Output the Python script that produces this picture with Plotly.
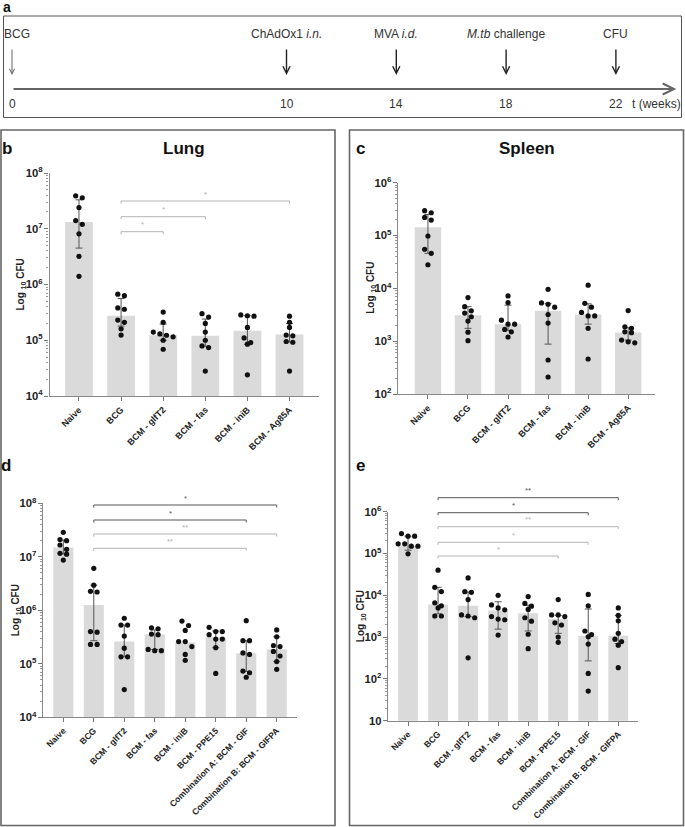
import math
import plotly.graph_objects as go

W, H = 685, 827
FONT = "Liberation Sans, Arial, sans-serif"

# ---------------- data ----------------
timeline_weeks = [0, 10, 14, 18, 22]
timeline_events = ["BCG", "ChAdOx1 <i>i.n.</i>", "MVA <i>i.d.</i>", "<i>M.tb</i> challenge", "CFU"]
timeline_end = 24.2

groups_6 = ["Naive", "BCG", "BCM - glfT2", "BCM - fas", "BCM - iniB", "BCM - Ag85A"]
groups_8 = ["Naive", "BCG", "BCM - glfT2", "BCM - fas", "BCM - iniB", "BCM - PPE15",
            "Combination A: BCM - GIF", "Combination B: BCM - GIFPA"]

# (b) Lung, experiment 1
lung1_mean = [1.32e7, 2.75e5, 1.23e5, 1.2e5, 1.48e5, 1.27e5]
lung1_hi = [3.3e7, 5.6e5, 1.95e5, 2.4e5, 2.75e5, 2.0e5]
lung1_lo = [4.5e6, 1.8e5, 1.0e5, 7.8e4, 8.5e4, 9.3e4]
lung1_dots = [
    [3.6e7, 3.9e7, 2.4e7, 1.2e7, 1.4e7, 8.1e6, 3.2e6, 1.4e6],
    [6.3e5, 6.7e5, 3.6e5, 3.8e5, 2.1e5, 2.3e5, 1.6e5, 1.24e5],
    [3.2e5, 2.1e5, 1.4e5, 1.3e5, 1.23e5, 1.15e5, 1.0e5, 6.9e4],
    [2.6e5, 3.0e5, 2.0e5, 1.4e5, 1.0e5, 7.4e4, 7.9e4, 2.8e4],
    [2.7e5, 2.85e5, 2.75e5, 1.7e5, 1.1e5, 8.5e4, 9.1e4, 2.4e4],
    [2.7e5, 2.1e5, 1.7e5, 1.2e5, 1.24e5, 9.2e4, 9.5e4, 2.8e4],
]
lung1_sig = [(1, 2, "*"), (1, 3, "*"), (1, 5, "*")]

# (c) Spleen, experiment 1
spleen1_mean = [1.43e5, 3.1e3, 2.1e3, 3.75e3, 3.2e3, 1.46e3]
spleen1_hi = [2.5e5, 4.5e3, 4.8e3, 5.2e3, 5.1e3, 1.8e3]
spleen1_lo = [4.6e4, 1.75e3, 1.6e3, 8.8e2, 2.1e3, 1.05e3]
spleen1_dots = [
    [2.7e5, 2.95e5, 1.96e5, 2.2e5, 9.8e4, 5.5e4, 4.6e4, 2.8e4],
    [6.7e3, 4.5e3, 3.75e3, 3.4e3, 2.9e3, 2.4e3, 1.48e3, 1.02e3],
    [7.2e3, 5.4e3, 2.5e3, 2.1e3, 2.1e3, 1.5e3, 1.67e3, 1.2e3],
    [9.6e3, 5.3e3, 5.0e3, 4.4e3, 3.2e3, 2.2e3, 4.4e2, 2.1e2],
    [1.15e4, 5.2e3, 4.4e3, 3.5e3, 3.0e3, 3.0e3, 1.75e3, 4.6e2],
    [3.8e3, 1.87e3, 1.75e3, 1.45e3, 1.5e3, 1.05e3, 9.3e2, 9.7e2],
]

# (d) Lung, experiment 2
lung2_mean = [1.5e7, 1.26e6, 2.6e5, 3.55e5, 2.5e5, 3.15e5, 1.57e5, 1.87e5]
lung2_hi = [2.05e7, 2.95e6, 5.3e5, 4.3e5, None, 4.1e5, 2.7e5, 3.2e5]
lung2_lo = [1.13e7, 2.7e5, 1.35e5, 1.85e5, None, 2.0e5, 7.2e4, 1.1e5]
lung2_dots = [
    [2.87e7, 2.0e7, 2.1e7, 1.66e7, 1.38e7, 1.12e7, 1.16e7, 8.7e6],
    [6.1e6, 2.95e6, 2.2e6, 2.26e6, 3.9e5, 4.0e5, 2.3e5, 2.3e5],
    [7.1e5, 5.3e5, 5.3e5, 3.3e5, 1.96e5, 1.35e5, 1.35e5, 3.3e4],
    [4.5e5, 4.7e5, 3.5e5, 3.6e5, 1.76e5, 1.86e5, 1.76e5],
    [6.3e5, 5.2e5, 4.2e5, 2.6e5, 2.6e5, 2.1e5, 1.5e5, 1.16e5],
    [4.8e5, 4.0e5, 4.0e5, 3.5e5, 2.9e5, 2.9e5, 2.0e5, 6.6e4],
    [6.4e5, 2.7e5, 2.7e5, 1.5e5, 1.6e5, 6.8e4, 7.3e4, 5.6e4],
    [4.3e5, 3.2e5, 2.1e5, 2.2e5, 1.7e5, 1.4e5, 1.1e5, 7.9e4],
]
lung2_sig = [(1, 7, "*"), (1, 6, "*"), (1, 7, "**"), (1, 6, "**")]

# (e) Spleen, experiment 2
spleen2_mean = [1.55e5, 6.0e3, 5.6e3, 4.3e3, 3.7e3, 2.7e3, 1.07e3, 1.07e3]
spleen2_hi = [2.6e5, 1.55e4, 1.2e4, 7.0e3, 5.8e3, 3.3e3, 4.7e3, 3.3e3]
spleen2_lo = [1.2e5, 3.6e3, 3.1e3, 1.55e3, 1.4e3, 1.23e3, 2.7e2, 7.0e2]
spleen2_dots = [
    [2.6e5, 3.0e5, 2.6e5, 1.5e5, 1.7e5, 1.7e5, 1.5e5, 9.8e4],
    [4.0e4, 1.55e4, 1.23e4, 6.6e3, 5.0e3, 5.6e3, 3.2e3, 3.2e3],
    [2.6e4, 1.18e4, 1.22e4, 7.9e3, 3.4e3, 2.9e3, 3.2e3, 3.2e2],
    [1.0e4, 5.9e3, 5.0e3, 4.5e3, 3.1e3, 2.6e3, 2.7e3, 1.12e3],
    [9.3e3, 6.4e3, 5.5e3, 4.6e3, 2.9e3, 2.4e3, 1.17e3, 5.3e2],
    [7.9e3, 3.1e3, 3.4e3, 3.4e3, 1.95e3, 2.2e3, 1.0e3, 7.5e2],
    [1.05e4, 5.6e3, 1.4e3, 1.02e3, 1.15e3, 6.8e2, 1.35e2, 51],
    [5.0e3, 3.3e3, 2.45e3, 1.23e3, 7.8e2, 8.9e2, 6.4e2, 1.86e2],
]
spleen2_sig = [(1, 7, "**"), (1, 6, "*"), (1, 7, "**"), (1, 6, "*"), (1, 5, "*")]

# ---------------- layout config (pixels) ----------------
DARK = "#555555"
LIGHT = "#b4b4b4"
panels = [
    dict(ax="", letter="b", title="Lung", groups=groups_6, mean=lung1_mean, hi=lung1_hi, lo=lung1_lo,
         dots=lung1_dots, sig=lung1_sig, sig_y=[231.7, 216.7, 201.0], sig_c=[LIGHT, LIGHT, LIGHT],
         xdom=(49.5, 319), ydom=(173, 396), xr=(-0.70, 5.70), yr=(4, 8),
         letter_px=(7, 148), title_px=(184, 148), ytitle_px=(21, 284.5), tick_size=9),
    dict(ax="2", letter="c", title="Spleen", groups=groups_6, mean=spleen1_mean, hi=spleen1_hi, lo=spleen1_lo,
         dots=spleen1_dots, sig=[], sig_y=[], sig_c=[],
         xdom=(398.3, 655), ydom=(182.7, 394), xr=(-0.74, 5.67), yr=(2, 6),
         letter_px=(360, 148), title_px=(527, 148), ytitle_px=(371.5, 288.3), tick_size=9),
    dict(ax="3", letter="d", title="", groups=groups_8, mean=lung2_mean, hi=lung2_hi, lo=lung2_lo,
         dots=lung2_dots, sig=lung2_sig, sig_y=[505, 520, 534, 548.3], sig_c=[DARK, DARK, LIGHT, LIGHT],
         xdom=(43.3, 297.3), ydom=(503.3, 717.3), xr=(-0.656, 7.675), yr=(4, 8),
         letter_px=(6, 465), title_px=None, ytitle_px=(16, 610.3), tick_size=8.6),
    dict(ax="4", letter="e", title="", groups=groups_8, mean=spleen2_mean, hi=spleen2_hi, lo=spleen2_lo,
         dots=spleen2_dots, sig=spleen2_sig, sig_y=[497.7, 512.7, 526.7, 542.3, 556],
         sig_c=[DARK, DARK, LIGHT, LIGHT, LIGHT],
         xdom=(388.3, 638.3), ydom=(511.7, 720.7), xr=(-0.657, 7.667), yr=(1, 6),
         letter_px=(361, 465), title_px=None, ytitle_px=(361, 616.2), tick_size=8.6),
]


def pxx(p):
    return p / W


def pxy(p):
    return 1 - p / H


def cat_px(pn, idx):
    x0, x1 = pn["xdom"]
    r0, r1 = pn["xr"]
    return x0 + (idx - r0) / (r1 - r0) * (x1 - x0)


def swarm(vals, ppd, ppc, dot=5.0, gap=6.6):
    order = sorted(range(len(vals)), key=lambda k: -vals[k])
    rows = []
    for k in order:
        yv = math.log10(vals[k]) * ppd
        if rows and abs(rows[-1][0] - yv) < dot:
            rows[-1][1].append(k)
        else:
            rows.append([yv, [k]])
    off = [0.0] * len(vals)
    for _, members in rows:
        n = len(members)
        for j, k in enumerate(members):
            off[k] = (j - (n - 1) / 2) * gap / ppc
    return off


def label(x, y, text, size, color="#222", angle=0, xref="paper", **kw):
    d = dict(x=x, y=y, xref=xref, yref="paper", text=text, showarrow=False, textangle=angle,
             xanchor="center", yanchor="middle", font=dict(size=size, color=color, family=FONT))
    d.update(kw)
    return d


fig = go.Figure()
layout = dict(width=W, height=H, margin=dict(l=0, r=0, t=0, b=0),
              paper_bgcolor="white", plot_bgcolor="white", showlegend=False,
              font=dict(family=FONT, color="#222"), template="none")
annotations = []
shapes = []

for pn in panels:
    xa, ya = "x" + pn["ax"], "y" + pn["ax"]
    n = len(pn["groups"])
    idx = list(range(n))
    ppd = (pn["ydom"][1] - pn["ydom"][0]) / (pn["yr"][1] - pn["yr"][0])
    ppc = (pn["xdom"][1] - pn["xdom"][0]) / (pn["xr"][1] - pn["xr"][0])

    fig.add_trace(go.Bar(x=idx, y=pn["mean"], width=0.66, marker=dict(color="#dadada", line=dict(width=0)),
                         xaxis=xa, yaxis=ya, hoverinfo="skip"))
    ex, ey, ep, em = [], [], [], []
    for i in idx:
        if pn["hi"][i] is not None:
            ex.append(i)
            ey.append(pn["mean"][i])
            ep.append(pn["hi"][i] - pn["mean"][i])
            em.append(pn["mean"][i] - pn["lo"][i])
    fig.add_trace(go.Scatter(x=ex, y=ey, mode="markers", marker=dict(size=2, opacity=0),
                             error_y=dict(type="data", array=ep, arrayminus=em, color="#555",
                                          thickness=1, width=3.5),
                             xaxis=xa, yaxis=ya, hoverinfo="skip"))
    dx, dy = [], []
    for i in idx:
        offs = swarm(pn["dots"][i], ppd, ppc)
        for v, o in zip(pn["dots"][i], offs):
            dx.append(i + o)
            dy.append(v)
    fig.add_trace(go.Scatter(x=dx, y=dy, mode="markers", marker=dict(size=5.2, color="#111"),
                             xaxis=xa, yaxis=ya, hoverinfo="skip"))

    xkey = "xaxis" + pn["ax"]
    ykey = "yaxis" + pn["ax"]
    layout[xkey] = dict(domain=[pxx(pn["xdom"][0]), pxx(pn["xdom"][1])], anchor=ya,
                        range=list(pn["xr"]), tickmode="array", tickvals=idx, ticktext=pn["groups"],
                        tickangle=-45, ticks="outside", ticklen=4, tickcolor="#777",
                        showline=True, linecolor="#888", linewidth=1.2, showgrid=False, zeroline=False,
                        tickfont=dict(family=FONT, size=pn["tick_size"], color="#222", weight="bold"),
                        automargin=False, fixedrange=True)
    layout[ykey] = dict(domain=[pxy(pn["ydom"][1]), pxy(pn["ydom"][0])], anchor=xa,
                        type="log", range=list(pn["yr"]), dtick=1, exponentformat="power",
                        ticks="outside", ticklen=4, tickcolor="#777",
                        minor=dict(ticks="outside", ticklen=2, tickcolor="#999", dtick="D1"),
                        showline=True, linecolor="#888", linewidth=1.2, showgrid=False, zeroline=False,
                        tickfont=dict(family=FONT, size=9, color="#222", weight="bold"),
                        automargin=False, fixedrange=True)

    annotations.append(label(pxx(pn["letter_px"][0]), pxy(pn["letter_px"][1]),
                             "<b>%s</b>" % pn["letter"], 17, "#111"))
    if pn["title_px"]:
        annotations.append(label(pxx(pn["title_px"][0]), pxy(pn["title_px"][1]),
                                 "<b>%s</b>" % pn["title"], 17, "#111"))
    annotations.append(label(pxx(pn["ytitle_px"][0]), pxy(pn["ytitle_px"][1]),
                             "<b>Log <sub>10</sub> CFU</b>", 10, "#222", angle=-90))

    for (i, j, lab), yb, col in zip(pn["sig"], pn["sig_y"], pn["sig_c"]):
        xi, xj = cat_px(pn, i), cat_px(pn, j)
        path = "M %f %f L %f %f L %f %f L %f %f" % (pxx(xi), pxy(yb + 2.5), pxx(xi), pxy(yb),
                                                  pxx(xj), pxy(yb), pxx(xj), pxy(yb + 2.5))
        shapes.append(dict(type="path", path=path, xref="paper", yref="paper",
                           line=dict(color=col, width=1)))
        annotations.append(label(pxx((xi + xj) / 2), pxy(yb - 0.5), lab, 8, col, yanchor="bottom"))

# panel boxes
shapes.append(dict(type="rect", xref="paper", yref="paper", x0=pxx(3.5), x1=pxx(681.5), y0=pxy(16), y1=pxy(117.5),
                   line=dict(color="#555", width=1)))
shapes.append(dict(type="rect", xref="paper", yref="paper", x0=pxx(1), x1=pxx(335), y0=pxy(130), y1=pxy(825.5),
                   line=dict(color="#666", width=1.6)))
shapes.append(dict(type="rect", xref="paper", yref="paper", x0=pxx(349.5), x1=pxx(683.5), y0=pxy(130), y1=pxy(825.5),
                   line=dict(color="#666", width=1.6)))

# ---------------- panel a: timeline ----------------
px_per_week = 27.45
t0_px = 12
fig.add_trace(go.Scatter(x=timeline_weeks, y=[0] * len(timeline_weeks), mode="markers",
                         marker=dict(opacity=0), xaxis="x5", yaxis="y5", hoverinfo="skip"))
layout["xaxis5"] = dict(domain=[0, 1], anchor="y5", visible=False, fixedrange=True,
                        range=[-t0_px / px_per_week, (W - t0_px) / px_per_week])
layout["yaxis5"] = dict(domain=[pxy(118), pxy(16)], anchor="x5", visible=False, range=[-1, 1], fixedrange=True)

annotations.append(label(pxx(6.5), pxy(7), "<b>a</b>", 14, "#111"))
annotations.append(dict(x=timeline_end, y=pxy(89), xref="x5", yref="paper", ax=0, ay=0,
                        axref="x5", ayref="pixel", text="", showarrow=True, arrowhead=5, arrowsize=1.1,
                        arrowwidth=2, arrowcolor="#666", standoff=0))
for k, (w, ev) in enumerate(zip(timeline_weeks, timeline_events)):
    if k == 0:
        annotations.append(label(w, pxy(34), ev, 12, "#333", xref="x5", xanchor="left", xshift=-10))
    else:
        annotations.append(label(w, pxy(34), ev, 12, "#333", xref="x5"))
    annotations.append(dict(x=w, y=pxy(75), xref="x5", yref="paper", ax=0, ay=-27, text="",
                            showarrow=True, arrowhead=5, arrowsize=1.0,
                            arrowwidth=1.0 if k == 0 else 1.4,
                            arrowcolor="#666" if k == 0 else "#222", standoff=0))
    annotations.append(label(w, pxy(104), str(w), 12, "#333", xref="x5"))
annotations.append(label(timeline_weeks[-1], pxy(104), "t (weeks)", 12, "#333", xref="x5",
                         xanchor="left", xshift=14))

layout["annotations"] = annotations
layout["shapes"] = shapes
fig.update_layout(**layout)
fig.write_html("out.html", config={"displayModeBar": False},
               post_script="document.body.style.margin='0';")
